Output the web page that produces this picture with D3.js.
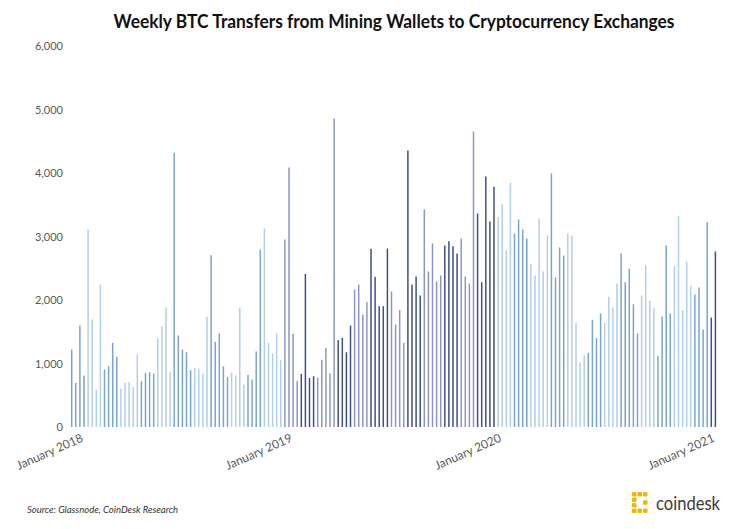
<!DOCTYPE html>
<html>
<head>
<meta charset="utf-8">
<script src="https://cdn.jsdelivr.net/npm/d3@7"></script>
<style>
  html, body { margin: 0; padding: 0; background: #ffffff; }
  svg { display: block; }
</style>
</head>
<body>
<svg id="chart" width="739" height="529"></svg>
<script>
// ---- data ----
const title = "Weekly BTC Transfers from Mining Wallets to Cryptocurrency Exchanges";
const firstWeekEnding = "2018-01-07";
const values = [1220, 696, 1598, 811, 3110, 1693, 590, 2244, 906, 958,
  1326, 1105, 601, 696, 706, 627, 1142, 722, 853, 863,
  843, 1394, 1588, 1882, 869, 4318, 1441, 1220, 1178, 895,
  932, 921, 843, 1735, 2706, 1341, 1472, 958, 785, 853,
  811, 1877, 669, 822, 748, 1189, 2795, 3126, 1326, 1157,
  1472, 1052, 2953, 4087, 1467, 722, 837, 2412, 774, 800,
  774, 1058, 1247, 843, 4858, 1367, 1404, 1178, 1598, 2165,
  2244, 1772, 1966, 2806, 2365, 1903, 1903, 2811, 2134, 1614,
  1840, 1326, 4354, 2244, 2370, 2071, 3425, 2449, 2890, 2291,
  2386, 2858, 2926, 2847, 2732, 2969, 2370, 2260, 4654, 3362,
  2280, 3945, 3236, 3783, 3310, 3509, 2780, 3846, 3047, 3268,
  3110, 2969, 2570, 2386, 3283, 2449, 3016, 3992, 2354, 2827,
  2701, 3047, 3016, 1640, 1016, 1126, 1168, 1688, 1399, 1787,
  1640, 2050, 1882, 2260, 2732, 2280, 2491, 1934, 1472, 2071,
  2543, 1987, 1871, 1115, 1740, 2858, 1787, 2532, 3320, 1840,
  2606, 2228, 2087, 2197, 1535, 3225, 1724, 2764];
const yTicks = [0, 1000, 2000, 3000, 4000, 5000, 6000];
const xTickIndex = [2, 53, 104, 156];
const xTickLabels = ["January 2018", "January 2019", "January 2020", "January 2021"];
const sourceText = "Source: Glassnode, CoinDesk Research";

// ---- colours per year: [odd-numbered months, even-numbered months] ----
const yearPalette = {
  2018: ["#7aa3cf", "#b3cee9"],
  2019: ["#8d95c5", "#3f4e86"],
  2020: ["#b3cee9", "#7aa3cf"],
  2021: ["#3f4e86", "#3f4e86"]
};

const start = d3.timeParse("%Y-%m-%d")(firstWeekEnding);
const data = values.map((v, i) => ({ i, v, date: d3.timeWeek.offset(start, i) }));

const svg = d3.select("#chart");
const x = d3.scaleBand().domain(d3.range(values.length))
  .range([69.65, 717.45]).paddingInner(0.64).paddingOuter(0.32);
const y = d3.scaleLinear().domain([0, 6000]).range([427, 46]);

function colorFor(d) {
  const yr = d.date.getFullYear();
  const m = d.date.getMonth();
  return yearPalette[yr][m % 2];
}

// bars
svg.append("g").selectAll("rect").data(data).join("rect")
  .attr("x", d => x(d.i))
  .attr("width", x.bandwidth())
  .attr("y", d => y(d.v))
  .attr("height", d => y(0) - y(d.v))
  .attr("fill", colorFor);

// y axis
const yAxis = d3.axisLeft(y).tickValues(yTicks).tickFormat(d3.format(",")).tickSize(0).tickPadding(0);
const gy = svg.append("g").attr("transform", "translate(63,0)").call(yAxis);
gy.select(".domain").remove();
gy.selectAll("text").attr("font-family", "Lato, 'Open Sans', sans-serif")
  .attr("font-size", 11).attr("fill", "#595959");

// x axis labels
const xAxis = d3.axisBottom(x).tickValues(xTickIndex)
  .tickFormat((d) => xTickLabels[xTickIndex.indexOf(d)]).tickSize(0);
const gx = svg.append("g").attr("transform", "translate(0,427)").call(xAxis);
gx.select(".domain").remove();
gx.selectAll("text")
  .attr("font-family", "Lato, 'Open Sans', sans-serif")
  .attr("font-size", 12).attr("fill", "#595959")
  .attr("text-anchor", "end")
  .attr("dy", null)
  .attr("y", 0)
  .attr("transform", "translate(4,14) rotate(-24)");

// title
svg.append("text").attr("x", 394).attr("y", 28).attr("text-anchor", "middle")
  .attr("font-family", "Lato, 'Open Sans', sans-serif").attr("font-weight", "bold")
  .attr("font-size", 18).attr("fill", "#111111")
  .attr("textLength", 561).attr("lengthAdjust", "spacingAndGlyphs")
  .text(title);

// source
svg.append("text").attr("x", 27).attr("y", 513)
  .attr("font-family", "Lato, 'Open Sans', sans-serif").attr("font-style", "italic")
  .attr("font-size", 9.5).attr("fill", "#333333")
  .text(sourceText);

// coindesk logo
const logo = svg.append("g").attr("transform", "translate(632,492)");
const gold = "#f5b400";
[[0,0],[0,5.5],[0,11],[0,16.5],[5.5,0],[11,0],[5.5,16.5],[11,16.5],[11,8.25]].forEach(p => {
  logo.append("rect").attr("x", p[0]).attr("y", p[1]).attr("width", 4.5).attr("height", 4.5)
    .attr("rx", 1).attr("fill", gold);
});
svg.append("text").attr("x", 656).attr("y", 510)
  .attr("font-family", "Lato, 'Open Sans', sans-serif")
  .attr("font-size", 19).attr("fill", "#3a3a3a")
  .attr("textLength", 64).attr("lengthAdjust", "spacingAndGlyphs")
  .text("coindesk");
</script>
</body>
</html>
